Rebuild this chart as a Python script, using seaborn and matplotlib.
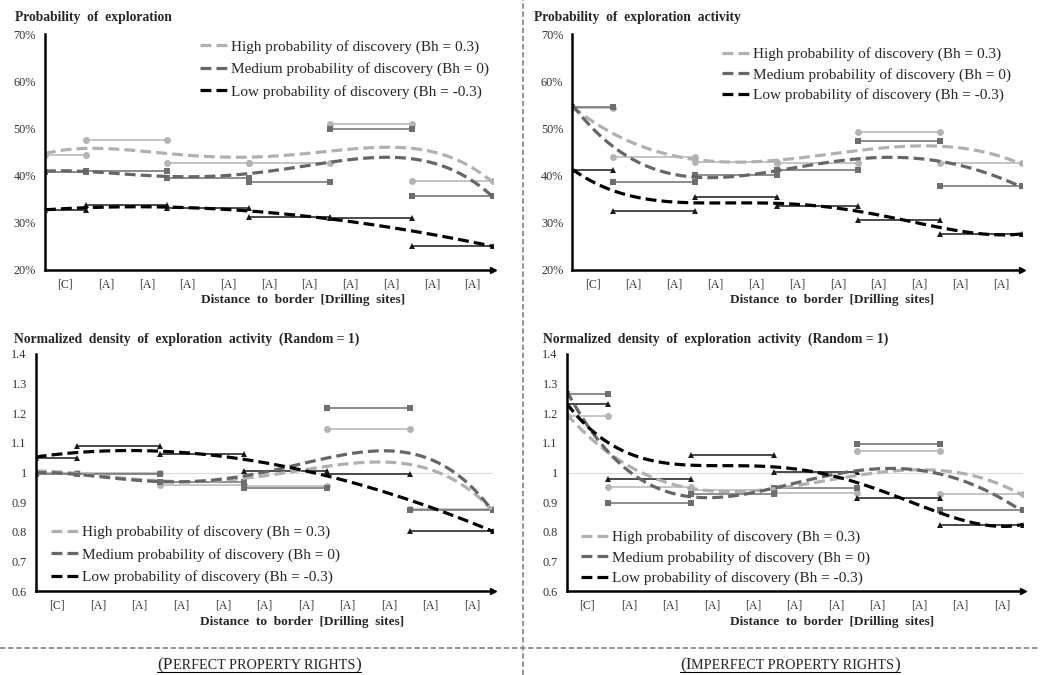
import numpy as np
import pandas as pd
import matplotlib
matplotlib.use('Agg')
import matplotlib.pyplot as plt
import seaborn as sns
from matplotlib.lines import Line2D
from matplotlib.ticker import FuncFormatter, MultipleLocator

sns.set_style('white')
plt.rcParams['font.family'] = ['Liberation Serif', 'DejaVu Serif']

# distance axis: each step covers two drilling sites (first one is the border cell)
seg_start = [0, 1, 3, 5, 7, 9]
seg_end = [1, 3, 5, 7, 9, 11]
site_labels = ['[C]'] + ['[A]'] * 10

series_names = ['High probability of discovery (Bh = 0.3)',
                'Medium probability of discovery (Bh = 0)',
                'Low probability of discovery (Bh = -0.3)']
series_keys = ['High', 'Medium', 'Low']

# probability of exploration (%), perfect property rights
prob_perfect_high = [44.4, 47.6, 42.6, 42.6, 51.0, 38.9]
prob_perfect_med = [40.8, 41.1, 39.6, 38.7, 49.9, 35.8]
prob_perfect_low = [32.7, 33.8, 33.1, 31.3, 31.1, 25.1]

# probability of exploration activity (%), imperfect property rights
prob_imperfect_high = [54.4, 43.9, 43.0, 42.7, 49.2, 42.6]
prob_imperfect_med = [54.6, 38.7, 40.2, 41.2, 47.4, 37.8]
prob_imperfect_low = [41.3, 32.6, 35.4, 33.6, 30.7, 27.6]

# normalized density (random = 1), perfect property rights
dens_perfect_high = [1.0, 1.0, 0.958, 0.953, 1.146, 0.877]
dens_perfect_med = [0.995, 0.995, 0.967, 0.947, 1.219, 0.875]
dens_perfect_low = [1.050, 1.088, 1.062, 1.006, 0.996, 0.804]

# normalized density (random = 1), imperfect property rights
dens_imperfect_high = [1.192, 0.952, 0.941, 0.932, 1.073, 0.926]
dens_imperfect_med = [1.265, 0.896, 0.929, 0.949, 1.096, 0.873]
dens_imperfect_low = [1.231, 0.977, 1.058, 1.001, 0.913, 0.823]

seg_colors = {'High': '#b4b4b4', 'Medium': '#6e6e6e', 'Low': '#1a1a1a'}
trend_colors = {'High': '#b0b0b0', 'Medium': '#666666', 'Low': '#000000'}
marker_map = {'High': 'o', 'Medium': 's', 'Low': '^'}

W, H = 1040, 675
fig = plt.figure(figsize=(W / 100, H / 100), dpi=100)


def px_axes(l, t, r, b):
    return fig.add_axes([l / W, 1 - b / H, (r - l) / W, (b - t) / H])


def build_df(high, med, low):
    rows = []
    for key, vals in zip(series_keys, [high, med, low]):
        for i, v in enumerate(vals):
            rows.append((key, i, seg_start[i], v))
            rows.append((key, i, seg_end[i], v))
    return pd.DataFrame(rows, columns=['series', 'seg', 'x', 'v'])


def draw_panel(ax, df, ylim, ystep, fmt, leg_xy, leg_space, refline=False):
    if refline:
        ax.axhline(1, color='#dcdcdc', lw=0.8, zorder=0)
    sns.lineplot(data=df, x='x', y='v', hue='series', style='series', units='seg',
                 estimator=None, sort=False, markers=marker_map, dashes=False,
                 palette=seg_colors, lw=1.1, ms=5, markeredgewidth=0,
                 legend=False, ax=ax)
    handles = []
    for key, name in zip(series_keys, series_names):
        sub = df[df['series'] == key]
        sns.regplot(data=sub, x='x', y='v', order=4, scatter=False, ci=None,
                    truncate=True, color=trend_colors[key], ax=ax,
                    line_kws=dict(lw=2.3, ls=(0, (3.4, 1.6))))
        line = ax.lines[-1]
        line.set_label(name)
        handles.append(line)
    ax.set_xlim(0, 11)
    ax.set_ylim(*ylim)
    ax.set_xlabel('')
    ax.set_ylabel('')
    ax.yaxis.set_major_locator(MultipleLocator(ystep))
    ax.yaxis.set_major_formatter(FuncFormatter(fmt))
    ax.set_xticks(range(0, 12))
    ax.set_xticklabels([])
    ax.set_xticks(np.arange(0.5, 11, 1), minor=True)
    ax.set_xticklabels(site_labels, minor=True)
    ax.tick_params(axis='x', which='major', direction='out', length=4, width=1, color='k')
    ax.tick_params(axis='x', which='minor', length=0, pad=6, labelsize=8.5, labelcolor='#333333')
    ax.tick_params(axis='y', direction='out', length=3, width=1, color='k',
                   labelsize=8.8, labelcolor='#333333', pad=3.5)
    for s in ['top', 'right']:
        ax.spines[s].set_visible(False)
    for s in ['left', 'bottom']:
        ax.spines[s].set_color('k')
        ax.spines[s].set_linewidth(1.8)
    ax.plot([1], [0], marker='>', ms=5, color='k', transform=ax.transAxes, clip_on=False)
    ax.legend(handles=handles, loc='upper left', bbox_to_anchor=(leg_xy[0] / W, 1 - leg_xy[1] / H),
              bbox_transform=fig.transFigure, frameon=False, fontsize=11,
              handlelength=1.9, handletextpad=0.15, labelspacing=leg_space,
              borderpad=0, borderaxespad=0)


pct = lambda v, p: f'{v:.0f}%'
dec = lambda v, p: f'{v:g}'

ax1 = px_axes(45, 34.3, 493, 270)
draw_panel(ax1, build_df(prob_perfect_high, prob_perfect_med, prob_perfect_low),
           (20, 70), 10, pct, (200, 40), 0.55)
ax2 = px_axes(572.3, 34.3, 1021.7, 270)
draw_panel(ax2, build_df(prob_imperfect_high, prob_imperfect_med, prob_imperfect_low),
           (20, 70), 10, pct, (722, 47.5), 0.42)
ax3 = px_axes(35.7, 354, 493, 591)
draw_panel(ax3, build_df(dens_perfect_high, dens_perfect_med, dens_perfect_low),
           (0.6, 1.4), 0.1, dec, (51, 525.5), 0.55, refline=True)
ax4 = px_axes(566.7, 354, 1022.7, 591)
draw_panel(ax4, build_df(dens_imperfect_high, dens_imperfect_med, dens_imperfect_low),
           (0.6, 1.4), 0.1, dec, (581, 530.5), 0.42, refline=True)

titles = [(15, 18, 'Probability  of  exploration'),
          (534, 18, 'Probability  of  exploration  activity'),
          (14, 339, 'Normalized  density  of  exploration  activity  (Random = 1)'),
          (543, 339, 'Normalized  density  of  exploration  activity  (Random = 1)')]
for x, y, t in titles:
    fig.text(x / W, 1 - y / H, t, fontsize=9.8, weight='bold', ha='left', va='center')

for x, y in [(303, 300), (832, 300), (302, 622), (832, 622)]:
    fig.text(x / W, 1 - y / H, 'Distance  to  border  [Drilling  sites]', fontsize=9.6,
             weight='bold', ha='center', va='center')

# panel separators
fig.add_artist(Line2D([523 / W, 523 / W], [0, 1], transform=fig.transFigure,
                      color='#8a8a8a', lw=1.3, ls=(0, (3, 1.5))))
fig.add_artist(Line2D([0, 1], [1 - 648 / H, 1 - 648 / H], transform=fig.transFigure,
                      color='#8a8a8a', lw=1.3, ls=(0, (3, 1.5))))


# small-caps style captions under each column
def caption(xc, y, parts):
    r = fig.canvas.get_renderer()
    texts = []
    widths = []
    for s, size in parts:
        t = fig.text(0, 1 - y / H, s, fontsize=size, ha='left', va='baseline')
        texts.append(t)
        widths.append(t.get_window_extent(r).width)
    x = xc - sum(widths) / 2
    x0 = x
    for t, w in zip(texts, widths):
        t.set_x(x / W)
        x += w
    fig.add_artist(Line2D([x0 / W, x / W], [1 - (y + 3) / H] * 2, transform=fig.transFigure,
                          color='k', lw=0.8))


caption(259, 669, [('(P', 12.5), ('ERFECT PROPERTY RIGHTS', 10.2), (')', 12.5)])
caption(790, 669, [('(I', 12.5), ('MPERFECT PROPERTY RIGHTS', 10.2), (')', 12.5)])

fig.savefig('out.png', dpi=100)
